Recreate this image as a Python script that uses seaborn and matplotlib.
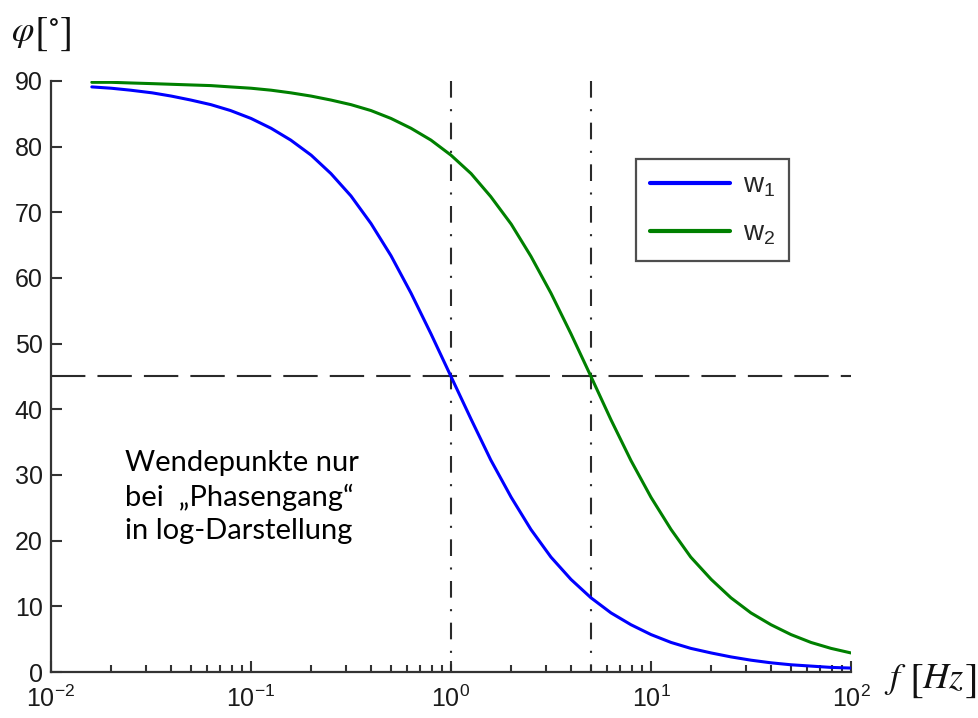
import matplotlib
matplotlib.use("Agg")
import matplotlib.pyplot as plt
import pandas as pd
import seaborn as sns

# ---- data ----
freq = [0.016, 0.02, 0.025, 0.032, 0.04, 0.05, 0.063, 0.079, 0.1, 0.126, 0.158,
        0.2, 0.251, 0.316, 0.398, 0.501, 0.631, 0.794, 1.0, 1.26, 1.58, 2.0, 2.51,
        3.16, 3.98, 5.01, 6.31, 7.94, 10, 12.6, 15.8, 20, 25.1, 31.6, 39.8, 50.1,
        63.1, 79.4, 100]
phase_w1 = [89.1, 88.9, 88.6, 88.2, 87.7, 87.1, 86.4, 85.5, 84.3, 82.8, 81.0,
            78.7, 75.9, 72.5, 68.3, 63.4, 57.7, 51.5, 45.0, 38.5, 32.3, 26.6, 21.7,
            17.5, 14.1, 11.3, 9.0, 7.2, 5.7, 4.5, 3.6, 2.9, 2.3, 1.8, 1.4, 1.1,
            0.9, 0.7, 0.6]
phase_w2 = [89.8, 89.8, 89.7, 89.6, 89.5, 89.4, 89.3, 89.1, 88.9, 88.6, 88.2,
            87.7, 87.1, 86.4, 85.5, 84.3, 82.8, 81.0, 78.7, 75.9, 72.4, 68.2, 63.3,
            57.7, 51.5, 45.0, 38.4, 32.2, 26.6, 21.7, 17.5, 14.1, 11.3, 9.0, 7.2,
            5.7, 4.5, 3.6, 2.9]
series_names = [r"$\mathregular{w_1}$", r"$\mathregular{w_2}$"]
series_colors = ["#0000ff", "#008000"]
corner_freqs = [1, 5]
half_phase = 45
yticks = [0, 10, 20, 30, 40, 50, 60, 70, 80, 90]
xticks = [0.01, 0.1, 1, 10, 100]
xtick_labels = [r"$\mathregular{10^{-2}}$", r"$\mathregular{10^{-1}}$",
                r"$\mathregular{10^{0}}$", r"$\mathregular{10^{1}}$",
                r"$\mathregular{10^{2}}$"]
note_text = "Wendepunkte nur\nbei  \u201ePhasengang\u201c\nin log-Darstellung"

# ---- style ----
sns.set_theme(style="ticks")
plt.rcParams["font.family"] = ["Liberation Sans", "DejaVu Sans"]
plt.rcParams["mathtext.fontset"] = "custom"
plt.rcParams["mathtext.rm"] = "Liberation Sans"
plt.rcParams["mathtext.it"] = "Liberation Sans:italic"

spine_col = "#333333"
W, H = 979, 718

fig = plt.figure(figsize=(9.79, 7.18), dpi=100)
ax = fig.add_axes([51 / W, 46 / H, 800 / W, 591 / H])

df = pd.DataFrame({
    "f": freq * 2,
    "phi": phase_w1 + phase_w2,
    "series": [series_names[0]] * len(freq) + [series_names[1]] * len(freq),
})
sns.lineplot(data=df, x="f", y="phi", hue="series", palette=series_colors,
             linewidth=2.2, ax=ax, sort=False, estimator=None)

# reference lines
ax.plot([xticks[0], xticks[-1]], [half_phase, half_phase], color="#2a2a2a",
        lw=1.5, dashes=(16.5, 5.8), zorder=1)
for fc in corner_freqs:
    ax.plot([fc, fc], [yticks[-1], yticks[0]], color="#2a2a2a", lw=1.5,
            dashes=(8, 5.5, 1, 5.5), zorder=1)

ax.set_xscale("log")
ax.set_xlim(xticks[0], xticks[-1])
ax.set_ylim(yticks[0], yticks[-1])
ax.set_xticks(xticks)
ax.set_xticklabels(xtick_labels)
ax.set_yticks(yticks)
ax.set_xlabel("")
ax.set_ylabel("")

for side in ["top", "right"]:
    ax.spines[side].set_visible(False)
for side in ["left", "bottom"]:
    ax.spines[side].set_color(spine_col)
    ax.spines[side].set_linewidth(1.6)

ax.tick_params(axis="both", which="major", direction="in", length=8, width=1.5,
               color=spine_col, labelsize=18, labelcolor="#1a1a1a")
ax.tick_params(axis="x", which="major", pad=10)
ax.tick_params(axis="y", which="major", pad=6)
ax.tick_params(axis="x", which="minor", direction="in", length=5, width=1.5,
               color=spine_col)
ax.tick_params(axis="y", which="minor", length=0)

handles, labels = ax.get_legend_handles_labels()
leg = ax.legend(handles, labels, loc="upper left", bbox_to_anchor=(0.731, 0.868),
                fontsize=20, frameon=True, fancybox=False, handlelength=2.9,
                handletextpad=0.45, borderpad=0.5, labelspacing=0.75,
                borderaxespad=0)
leg.get_frame().set_edgecolor("#222222")
leg.get_frame().set_linewidth(1.6)
for line in leg.get_lines():
    line.set_linewidth(3)

fig.text(125 / W, 1 - 497 / H, note_text, family=["Lato", "DejaVu Sans"],
         fontsize=21, va="center", ha="left", linespacing=1.32, color="black")


def put(x, y, s, size, **kw):
    """Place text s with its left edge at pixel x and baseline at pixel y."""
    fig.text(x / W, 1 - y / H, s, fontsize=size, ha="left", va="baseline",
             color="#111111", **kw)


# y-axis label  phi [deg]
put(11, 41, r"$\varphi$", 26, math_fontfamily="stix")
put(34, 44, r"$[^{\circ}]$", 29, math_fontfamily="stix")

# x-axis label  f [Hz]
put(884, 688, r"$f$", 26, math_fontfamily="stix")
put(909, 691, "[", 30, family="STIXGeneral")
put(922, 688, r"$Hz$", 26, math_fontfamily="stix")
put(965, 691, "]", 30, family="STIXGeneral")

fig.savefig("out.png", dpi=100)
